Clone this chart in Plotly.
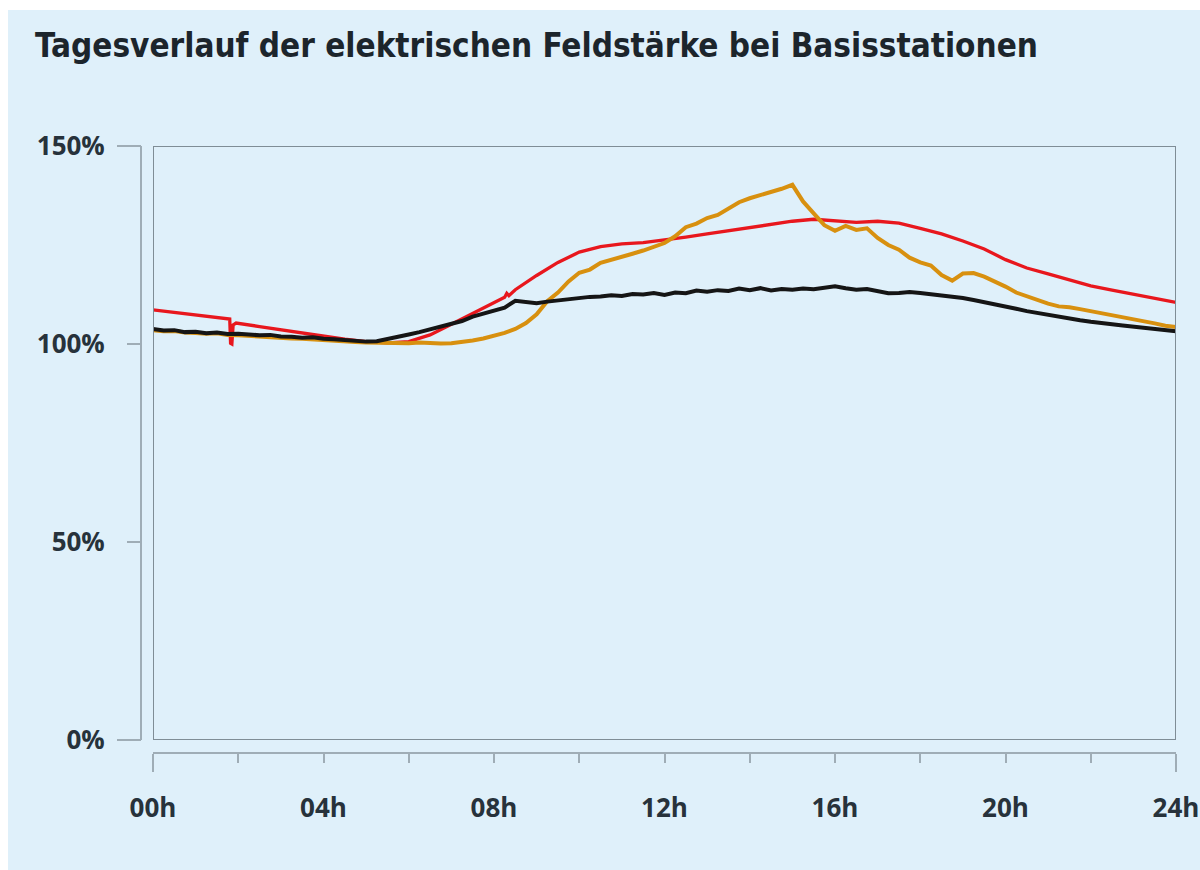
import plotly.graph_objects as go

# ---------------- data ----------------
hours_q = [i * 0.25 for i in range(97)]  # 0 .. 24 h, quarter hours

orange_vals = [
    103.5, 103.2, 103.3, 102.9, 102.8, 102.6, 102.7, 102.3, 102.2, 102.0, 101.9, 101.7,
    101.6, 101.4, 101.3, 101.1, 101.0, 100.8, 100.7, 100.5, 100.4, 100.3, 100.3, 100.2,
    100.2, 100.4, 100.2, 100.1, 100.2, 100.5, 100.9, 101.4, 102.0, 102.8, 103.8, 105.3,
    107.5, 110.8, 113.0, 115.8, 118.0, 118.8, 120.5, 121.2, 122.0, 122.8, 123.6, 124.6,
    125.5, 127.2, 129.5, 130.4, 131.8, 132.6, 134.2, 135.8, 136.8, 137.6, 138.2, 139.2,
    140.2, 136.0, 133.0, 130.0, 128.6, 129.8, 128.8, 129.2, 126.8, 125.0, 123.8, 121.8,
    120.6, 119.8, 117.4, 116.0, 117.8, 117.9, 117.0, 115.8, 114.5, 113.0, 112.0, 111.0,
    110.2, 109.5, 109.3, 108.8, 108.3, 107.8, 107.2, 106.8, 106.4, 105.8, 105.2, 104.6,
    104.3,
]

black_vals = [
    103.8, 103.4, 103.5, 103.0, 103.1, 102.7, 102.9, 102.5, 102.6, 102.3, 102.2, 102.3,
    101.9, 101.8, 101.6, 101.7, 101.3, 101.2, 101.0, 100.8, 100.6, 100.7, 101.2, 101.8,
    102.4, 103.0, 103.7, 104.4, 105.3, 105.8, 106.9, 107.6, 108.5, 109.2, 110.9, 110.6,
    110.3, 110.7, 111.0, 111.4, 111.6, 111.9, 112.0, 112.3, 112.1, 112.6, 112.5, 112.9,
    112.4, 113.0, 112.8, 113.5, 113.2, 113.6, 113.4, 114.0, 113.6, 114.1, 113.5, 113.9,
    113.7, 114.0, 113.8, 114.3, 114.6, 114.1, 113.7, 113.9, 113.3, 112.8, 112.9, 113.1,
    112.9, 112.6, 112.4, 112.0, 111.6, 111.1, 110.6, 110.1, 109.4, 108.9, 108.3, 107.8,
    107.4, 106.9, 106.5, 106.0, 105.6, 105.2, 105.0, 104.7, 104.4, 104.1, 103.9, 103.6,
    103.2,
]

red_hours = [
    0, 0.5, 1, 1.5, 1.8, 1.82, 1.85, 1.88, 1.95, 2.5, 3, 3.5, 4, 4.5, 5, 5.5, 6, 6.5,
    7, 7.5, 8, 8.25, 8.3, 8.35, 8.5, 9, 9.5, 10, 10.5, 11, 11.5, 12, 12.5, 13, 13.5,
    14, 14.5, 15, 15.5, 16, 16.5, 17, 17.5, 18, 18.5, 19, 19.5, 20, 20.5, 21, 21.5,
    22, 22.5, 23, 23.5, 24,
]
red_vals = [
    108.6, 108.0, 107.4, 106.8, 106.3, 100.2, 100.0, 104.8, 105.3, 104.4, 103.6, 102.8,
    101.9, 101.2, 100.6, 100.3, 100.6, 102.3, 105.0, 107.7, 110.3, 111.8, 112.8, 112.2,
    113.7, 117.3, 120.6, 123.2, 124.6, 125.3, 125.6, 126.2, 127.0, 127.8, 128.6, 129.3,
    130.2, 131.0, 131.5, 131.2, 130.7, 131.0, 130.5, 129.2, 127.8, 126.0, 124.0, 121.3,
    119.2, 117.7, 116.2, 114.7, 113.6, 112.5, 111.5, 110.5,
]

x_tickvals = list(range(0, 25, 2))
x_ticktext = ["00h", "", "04h", "", "08h", "", "12h", "", "16h", "", "20h", "", "24h"]
x_endticks = [0, 24]
y_tickvals = [0, 50, 100, 150]
y_ticktext = ["0%", "50%", "100%", "150%"]
y_endticks = [0, 150]

title_text = "Tagesverlauf der elektrischen Feldstärke bei Basisstationen"

# ---------------- styling ----------------
W, H = 1200, 870
BG = "#dff0fa"
TXT = "#27323b"
FRAME = "#7f8d96"
AXIS = "#9fadb6"
FONT = "Open Sans, DejaVu Sans, sans-serif"

# pixel layout (page coordinates, body margin removed)
L_AX, R_PLOT = 141, 1176          # y-axis line x, right frame x
X0_PLOT = 153                      # left frame x
T_PLOT, B_PLOT, B_AX = 146, 740, 753
plot_w = R_PLOT - L_AX
plot_h = B_AX - T_PLOT

fig = go.Figure()

fig.add_trace(go.Scatter(x=red_hours, y=red_vals, mode="lines",
                         line=dict(color="#e8171d", width=3.3), hoverinfo="skip"))
fig.add_trace(go.Scatter(x=hours_q, y=orange_vals, mode="lines",
                         line=dict(color="#d8900f", width=4), hoverinfo="skip"))
fig.add_trace(go.Scatter(x=hours_q, y=black_vals, mode="lines",
                         line=dict(color="#151515", width=4), hoverinfo="skip"))
# invisible trace that drives the long end-ticks axes
fig.add_trace(go.Scatter(x=[0, 24], y=[0, 150], xaxis="x2", yaxis="y2", mode="markers",
                         marker=dict(opacity=0), hoverinfo="skip"))

xdom = [(X0_PLOT - L_AX) / plot_w, 1]
ydom = [(B_AX - B_PLOT) / plot_h, 1]

axis_font = dict(family=FONT, size=26, color=TXT, weight="bold")

fig.update_layout(
    width=W, height=H, autosize=False,
    paper_bgcolor=BG, plot_bgcolor=BG,
    showlegend=False,
    margin=dict(l=L_AX, r=W - R_PLOT, t=T_PLOT, b=H - B_AX, pad=0, autoexpand=False),
    xaxis=dict(range=[0, 24], domain=xdom, anchor="free", position=0, automargin=False,
               showgrid=False, zeroline=False,
               showline=True, linecolor=AXIS, linewidth=2,
               ticks="outside", ticklen=9, tickwidth=2, tickcolor=AXIS,
               tickvals=x_tickvals, ticktext=x_ticktext,
               tickfont=axis_font, ticklabelstandoff=23),
    yaxis=dict(range=[0, 150], domain=ydom, anchor="free", position=0, automargin=False,
               showgrid=False, zeroline=False,
               showline=True, linecolor=AXIS, linewidth=2,
               ticks="outside", ticklen=13, tickwidth=2, tickcolor=AXIS,
               tickvals=y_tickvals, ticktext=y_ticktext,
               tickfont=axis_font, ticklabelstandoff=17),
    xaxis2=dict(range=[0, 24], domain=xdom, anchor="free", position=0, automargin=False,
                overlaying="x", showgrid=False, zeroline=False, showline=False,
                ticks="outside", ticklen=18, tickwidth=2, tickcolor=AXIS,
                tickvals=x_endticks, showticklabels=False),
    yaxis2=dict(range=[0, 150], domain=ydom, anchor="free", position=0, automargin=False,
                overlaying="y", showgrid=False, zeroline=False, showline=False,
                ticks="outside", ticklen=24, tickwidth=2, tickcolor=AXIS,
                tickvals=y_endticks, showticklabels=False),
)

# frame around the data area
fig.add_shape(type="rect", xref="x", yref="y", x0=0, x1=24, y0=0, y1=150,
              line=dict(color=FRAME, width=2), layer="above")


def px_to_paper_x(px):
    return (px - L_AX) / plot_w


def px_to_paper_y(py):
    return (B_AX - py) / plot_h


# white strips along the top and left edges of the image
fig.add_shape(type="rect", xref="paper", yref="paper",
              x0=px_to_paper_x(0), x1=px_to_paper_x(W), y0=px_to_paper_y(10), y1=px_to_paper_y(0),
              fillcolor="white", line=dict(width=0), layer="below")
fig.add_shape(type="rect", xref="paper", yref="paper",
              x0=px_to_paper_x(0), x1=px_to_paper_x(8), y0=px_to_paper_y(H), y1=px_to_paper_y(0),
              fillcolor="white", line=dict(width=0), layer="below")

fig.add_annotation(text=title_text, xref="paper", yref="paper",
                   x=px_to_paper_x(33), y=px_to_paper_y(46),
                   xanchor="left", yanchor="middle", showarrow=False,
                   font=dict(family="DejaVu Sans Condensed, Liberation Sans Narrow, DejaVu Sans, sans-serif",
                             size=33, color="#1c252c", weight="bold"))

fig.write_html(
    "out.html",
    config={"responsive": False, "displayModeBar": False},
    post_script=("document.documentElement.style.overflow='hidden';"
                 "document.body.style.margin='0';document.body.style.overflow='hidden';"),
)
